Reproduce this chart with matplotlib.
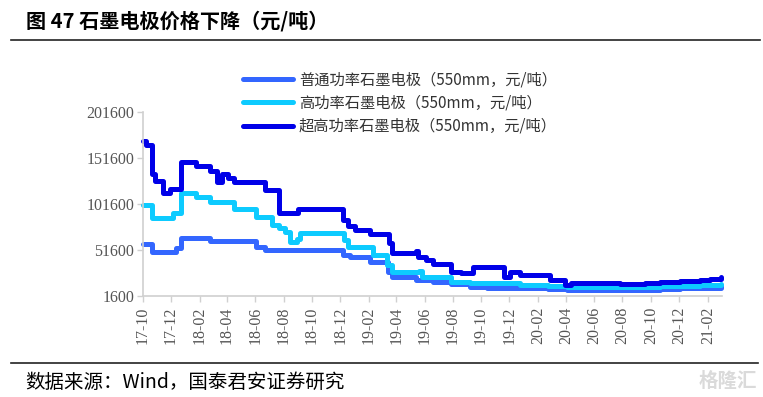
import matplotlib
matplotlib.use("Agg")
import matplotlib.pyplot as plt
import matplotlib.dates as mdates
import pandas as pd
from matplotlib.lines import Line2D

plt.rcParams['font.family'] = ['Noto Sans CJK SC', 'DejaVu Sans']

# ---------------- data (step breakpoints, 元/吨) ----------------
rp_dates = ["2017-10-01", "2017-10-21", "2017-12-11", "2017-12-22", "2018-02-23",
            "2018-06-02", "2018-06-22", "2018-12-07", "2018-12-22", "2019-02-04",
            "2019-03-15", "2019-03-23", "2019-05-14", "2019-06-19", "2019-07-29",
            "2019-09-07", "2019-10-13", "2020-02-23", "2020-04-03", "2020-10-20",
            "2020-12-03", "2021-01-15", "2021-03-01"]
rp_vals = [58000, 49500, 53500, 64500, 61300,
           55000, 51500, 46000, 44000, 38500,
           28000, 22000, 19000, 17000, 14000,
           11500, 10000, 8500, 7500, 8500,
           9500, 10500, 12000]

hp_dates = ["2017-10-01", "2017-10-21", "2017-12-05", "2017-12-22", "2018-01-23",
            "2018-02-23", "2018-04-17", "2018-06-02", "2018-07-06", "2018-07-23",
            "2018-08-05", "2018-08-14", "2018-08-29", "2018-09-05", "2018-12-09",
            "2018-12-18", "2019-02-10", "2019-03-13", "2019-03-23", "2019-05-21",
            "2019-05-27", "2019-07-29", "2019-09-07", "2019-12-23", "2020-02-23",
            "2020-04-03", "2020-10-20", "2021-01-15", "2021-03-01"]
hp_vals = [101000, 86000, 92000, 114000, 109000,
           104000, 96000, 88000, 79000, 76000,
           71000, 60000, 64000, 70000, 62000,
           55000, 46000, 35000, 27500, 29000,
           22000, 16500, 15000, 13500, 12000,
           11000, 12000, 13000, 14500]

uhp_dates = ["2017-10-01", "2017-10-08", "2017-10-21", "2017-10-27", "2017-11-14",
             "2017-11-29", "2017-12-22", "2018-01-23", "2018-02-23", "2018-03-11",
             "2018-03-22", "2018-04-02", "2018-04-17", "2018-06-22", "2018-07-23",
             "2018-09-01", "2018-12-07", "2018-12-18", "2019-01-02", "2019-02-04",
             "2019-03-17", "2019-03-23", "2019-05-14", "2019-05-18", "2019-06-05",
             "2019-06-19", "2019-07-29", "2019-08-19", "2019-09-13", "2019-11-20",
             "2019-12-03", "2019-12-23", "2020-02-27", "2020-03-30", "2020-04-12",
             "2020-07-26", "2020-09-18", "2020-10-20", "2020-12-03", "2021-01-15",
             "2021-02-06", "2021-03-01"]
uhp_vals = [170000, 166000, 135000, 127000, 114000,
            118000, 148000, 143000, 138000, 126000,
            135000, 130000, 126000, 117000, 92000,
            96000, 84000, 78000, 73000, 69000,
            59000, 48000, 50000, 44000, 41000,
            36500, 27500, 26000, 33000, 22000,
            27000, 24000, 19000, 13000, 16000,
            14000, 15000, 16500, 17500, 18500,
            20000, 22000]

series_names = ["普通功率石墨电极（550mm，元/吨）",
                "高功率石墨电极（550mm，元/吨）",
                "超高功率石墨电极（550mm，元/吨）"]
series_colors = ["#3366FF", "#0DCBFF", "#0000E8"]
y_ticks = [1600, 51600, 101600, 151600, 201600]

# ---------------- figure ----------------
W, H = 763, 397
fig = plt.figure(figsize=(W / 100, H / 100), dpi=100)
ax = fig.add_axes([142.7 / W, 1 - 295.7 / H, (721.7 - 142.7) / W, (295.7 - 112.5) / H])

series = [(rp_dates, rp_vals), (hp_dates, hp_vals), (uhp_dates, uhp_vals)]
for (d, v), name, c in zip(series, series_names, series_colors):
    ax.step(pd.to_datetime(d), v, where='post', color=c, lw=3.6, label=name,
            solid_joinstyle='round', solid_capstyle='round', clip_on=False)

ax.set_xlim(pd.Timestamp("2017-10-01"), pd.Timestamp("2021-03-03"))
ax.set_ylim(y_ticks[0], y_ticks[-1])
ax.set_yticks(y_ticks)
ax.set_yticklabels([str(t) for t in y_ticks])
ax.xaxis.set_major_locator(mdates.MonthLocator(bymonth=[2, 4, 6, 8, 10, 12]))
ax.xaxis.set_major_formatter(mdates.DateFormatter('%y-%m'))

for s in ['top', 'right']:
    ax.spines[s].set_visible(False)
for s in ['left', 'bottom']:
    ax.spines[s].set_color('#D0D0D0')
    ax.spines[s].set_linewidth(1.2)
ax.tick_params(axis='both', colors='#D0D0D0', length=4, width=1.0, labelcolor='#555555')
ax.tick_params(axis='y', pad=2)
ax.tick_params(axis='x', pad=4)
for lab in ax.get_yticklabels():
    lab.set_fontfamily('Liberation Serif')
    lab.set_fontsize(11.5)
for lab in ax.get_xticklabels():
    lab.set_fontfamily('Liberation Serif')
    lab.set_fontsize(11.5)
    lab.set_rotation(90)

# legend
handles = [Line2D([0], [0], color=c, lw=3.6, solid_capstyle='round') for c in series_colors]
leg = fig.legend(handles, series_names, loc='center left',
                 bbox_to_anchor=(243 / W, 1 - 103 / H), frameon=False,
                 fontsize=11, handlelength=3.3, handletextpad=0.35,
                 labelspacing=0.42, borderpad=0, borderaxespad=0)
for t in leg.get_texts():
    t.set_color('#333333')

# title, rules, source
fig.text(26 / W, 1 - 21 / H, "图 47 石墨电极价格下降（元/吨）", fontsize=14.5,
         fontweight='bold', va='center', ha='left', color='black')
fig.add_artist(Line2D([11 / W, 760 / W], [1 - 40 / H, 1 - 40 / H], color='#222222', lw=1.2))
fig.add_artist(Line2D([11 / W, 758 / W], [1 - 363 / H, 1 - 363 / H], color='#222222', lw=1.2))
fig.text(25 / W, 1 - 382 / H, "数据来源：Wind，国泰君安证券研究", fontsize=14,
         va='center', ha='left', color='black')
fig.text(757 / W, 1 - 381 / H, "格隆汇", fontsize=14, va='center', ha='right',
         color='#DADADA', fontweight='bold')

fig.savefig("out.png", dpi=100)
